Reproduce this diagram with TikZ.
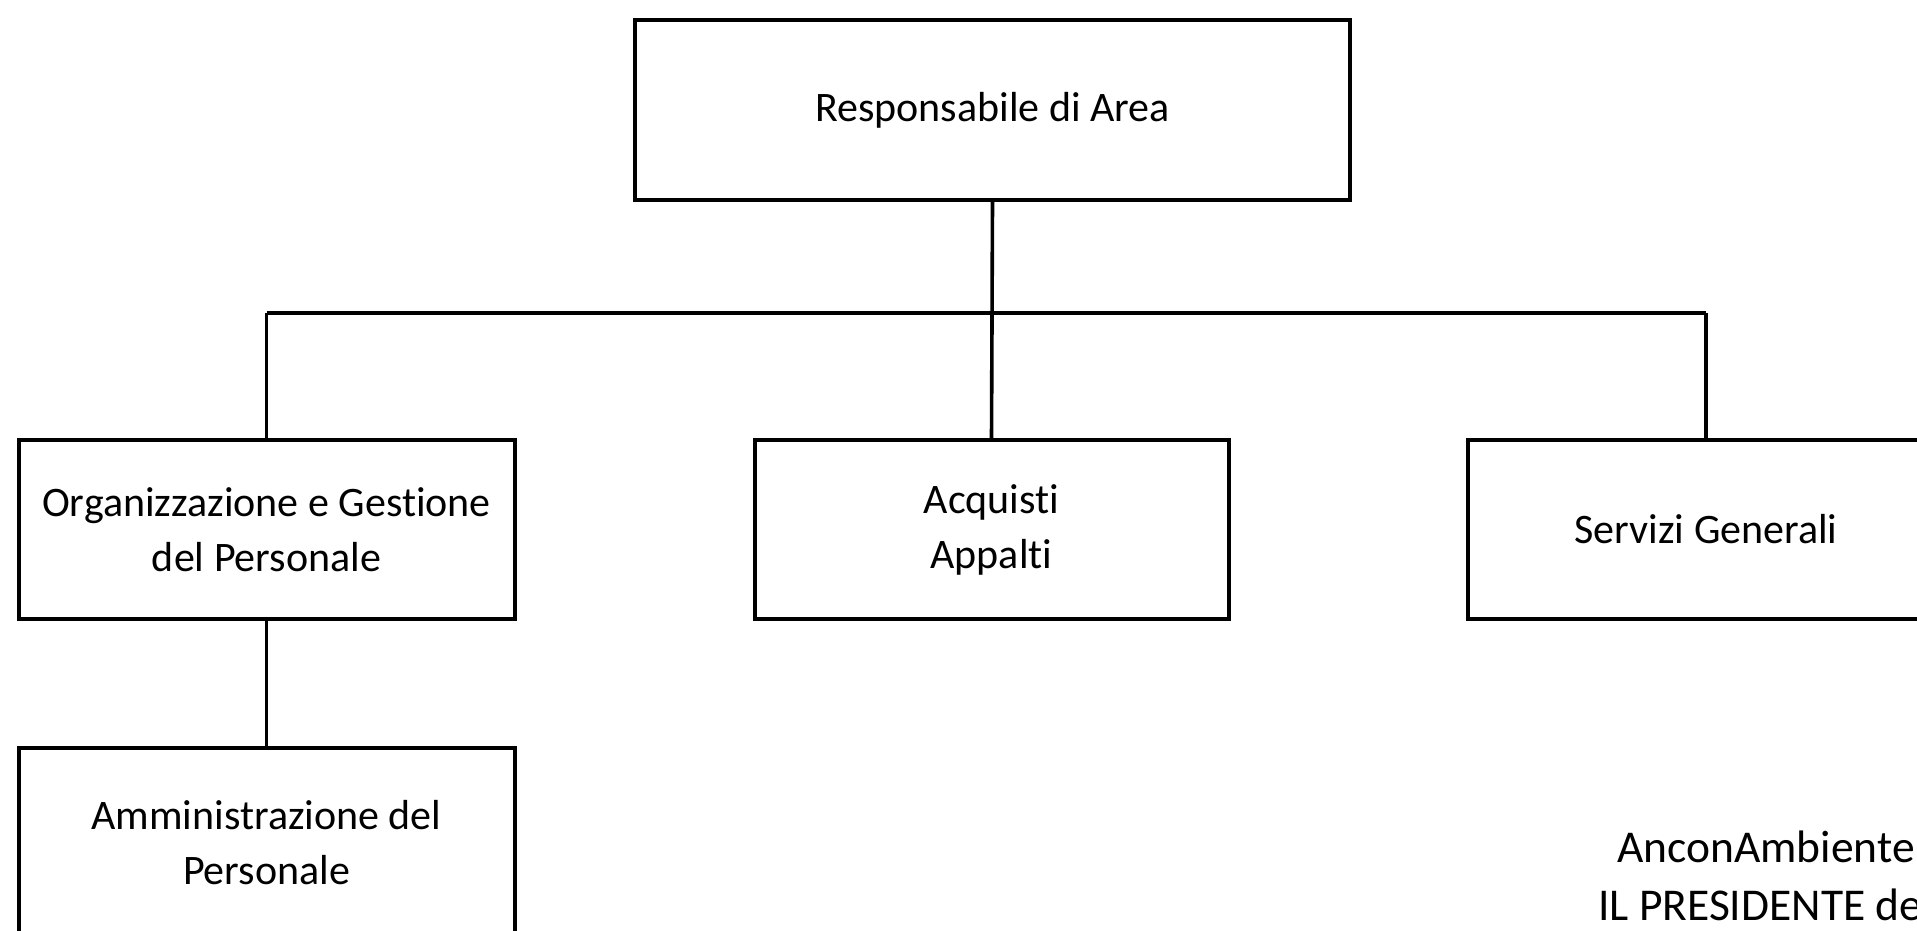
\documentclass[tikz,border=0pt]{standalone}
\usepackage{fontspec}
\setmainfont{Carlito}[Ligatures=NoCommon]
\begin{document}
\begin{tikzpicture}[x=1pt,y=-1pt,
  orgbox/.style={draw=black, line width=4pt, fill=none, align=center, inner sep=0pt,
    font=\fontsize{42}{55}\selectfont},
  link/.style={draw=black, line width=3.6pt},
  signtext/.style={anchor=base west, inner sep=0pt, font=\fontsize{45.5}{58}\selectfont}]
\useasboundingbox (0,0) rectangle (1917,931);
\clip (0,0) rectangle (1917,931);
\node[orgbox, minimum width=715pt, minimum height=180pt] (top) at (992.5,110) {Responsabile di Area};
\node[orgbox, minimum width=496pt, minimum height=179pt] (org) at (266.5,529.5) {Organizzazione e Gestione\\del Personale};
\node[orgbox, minimum width=474pt, minimum height=179pt] (acq) at (991.5,529.5) {Acquisti\\Appalti};
\node[orgbox, minimum width=476pt, minimum height=179pt] (serv) at (1706,529.5) {Servizi Generali};
\node[orgbox, minimum width=496pt, minimum height=190pt] (amm) at (266.5,843) {Amministrazione del\\Personale};
\coordinate (bus) at (991.5,313);
\draw[link] (top.south) -- (acq.north);
\draw[link] (org.north |- bus) -- (serv.north |- bus);
\draw[link] (org.north |- bus) -- (org.north);
\draw[link] (serv.north |- bus) -- (serv.north);
\draw[link] (org.south) -- (amm.north);
\node[signtext] (anc) at (1617,862) {AnconAmbiente};
\node[signtext] (pres) at (1598,920) {IL PRESIDENTE de};
\end{tikzpicture}
\end{document}
